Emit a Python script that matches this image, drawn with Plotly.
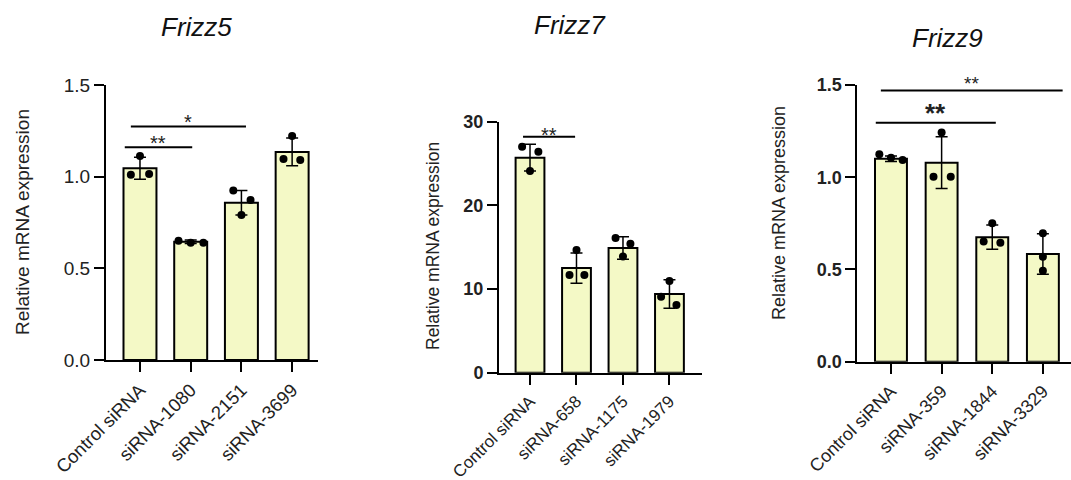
import plotly.graph_objects as go

# ---------------- data ----------------
titles = ["Frizz5", "Frizz7", "Frizz9"]

cats_5 = ["Control siRNA", "siRNA-1080", "siRNA-2151", "siRNA-3699"]
mean_5 = [1.046, 0.645, 0.858, 1.135]
sd_5 = [0.060, 0.010, 0.067, 0.076]
pts_5 = [[1.113, 1.010, 1.015], [0.650, 0.640, 0.640],
         [0.924, 0.873, 0.791], [1.222, 1.096, 1.091]]

cats_7 = ["Control siRNA", "siRNA-658", "siRNA-1175", "siRNA-1979"]
mean_7 = [25.7, 12.5, 14.9, 9.4]
sd_7 = [1.6, 1.8, 1.35, 1.7]
pts_7 = [[26.4, 27.0, 24.1], [14.66, 11.67, 11.67],
         [16.1, 15.4, 13.9], [10.96, 9.08, 8.09]]

cats_9 = ["Control siRNA", "siRNA-359", "siRNA-1844", "siRNA-3329"]
mean_9 = [1.100, 1.079, 0.675, 0.584]
sd_9 = [0.015, 0.140, 0.066, 0.110]
pts_9 = [[1.125, 1.106, 1.094], [1.242, 1.003, 1.003],
         [0.750, 0.651, 0.645], [0.696, 0.569, 0.493]]

# significance brackets: (x_from, x_to, y, label)
sig_5 = [(-0.30, 1.03, 1.16, "**"), (-0.18, 2.09, 1.273, "*")]
sig_7 = [(-0.15, 0.97, 28.2, "**")]
sig_9 = [(-0.30, 2.07, 1.296, "**"), (-0.20, 3.39, 1.47, "**")]

y_ticks_5 = [0.0, 0.5, 1.0, 1.5]
y_ticks_7 = [0, 10, 20, 30]
y_ticks_9 = [0.0, 0.5, 1.0, 1.5]
y_label = "Relative mRNA expression"

# ---------------- style ----------------
W, H = 1071, 480
FILL = "#F4F9C6"
FONT = "Liberation Sans, Arial, sans-serif"
# horizontal jitter of the dots (style only)
jit_5 = [[0.0, -0.18, 0.18], [-0.24, 0.0, 0.25], [-0.16, 0.18, 0.0], [0.0, -0.17, 0.16]]
jit_7 = [[0.18, -0.17, 0.0], [0.0, -0.15, 0.17], [-0.16, 0.16, 0.0], [0.0, -0.18, 0.15]]
jit_9 = [[-0.23, 0.0, 0.23], [0.0, -0.16, 0.18], [0.0, -0.17, 0.16], [0.0, 0.0, 0.0]]

panels = [
    dict(cats=cats_5, mean=mean_5, sd=sd_5, pts=pts_5, jit=jit_5, sig=sig_5,
         yt=y_ticks_5, ytext=["0.0", "0.5", "1.0", "1.5"], yr=[0, 1.5],
         xpx=(106, 318), xr=[-0.67, 3.51], ypx=(85, 360), bw=0.65,
         tickfont=19, bold=False, xfont=18.5, title_xy=(196, 27), tsize=26,
         ylab_xy=(22, 222), ylab_size=19,
         sigfont=[(20, False, 9), (20, False, 9)]),
    dict(cats=cats_7, mean=mean_7, sd=sd_7, pts=pts_7, jit=jit_7, sig=sig_7,
         yt=y_ticks_7, ytext=["0", "10", "20", "30"], yr=[0, 30],
         xpx=(499, 702), xr=[-0.667, 3.70], ypx=(121.7, 372.7), bw=0.62,
         tickfont=18, bold=True, xfont=17, title_xy=(570, 25), tsize=26,
         ylab_xy=(433, 246), ylab_size=17.5,
         sigfont=[(20, False, 6)]),
    dict(cats=cats_9, mean=mean_9, sd=sd_9, pts=pts_9, jit=jit_9, sig=sig_9,
         yt=y_ticks_9, ytext=["0.0", "0.5", "1.0", "1.5"], yr=[0, 1.5],
         xpx=(857.3, 1071), xr=[-0.665, 3.555], ypx=(85, 361.7), bw=0.63,
         tickfont=18, bold=True, xfont=18, title_xy=(947, 38), tsize=26,
         ylab_xy=(779, 213), ylab_size=18,
         sigfont=[(26, True, 16), (19, False, 11)]),
]

fig = go.Figure()
annotations = []
shapes = []
layout_axes = {}

for i, p in enumerate(panels):
    n = i + 1
    xa = "x" if n == 1 else f"x{n}"
    ya = "y" if n == 1 else f"y{n}"
    xs = list(range(len(p["cats"])))
    fig.add_trace(go.Bar(
        x=xs, y=p["mean"], width=p["bw"], xaxis=xa, yaxis=ya,
        marker=dict(color=FILL, line=dict(color="black", width=2)),
        error_y=dict(type="data", array=p["sd"], visible=True,
                     color="black", thickness=1.5, width=6),
        showlegend=False, hoverinfo="skip"))
    dx, dy = [], []
    for k, vals in enumerate(p["pts"]):
        for j, v in enumerate(vals):
            dx.append(k + p["jit"][k][j])
            dy.append(v)
    fig.add_trace(go.Scatter(
        x=dx, y=dy, mode="markers", xaxis=xa, yaxis=ya,
        marker=dict(color="black", size=8), showlegend=False,
        hoverinfo="skip", cliponaxis=False))

    x0p, x1p = p["xpx"]
    y0p, y1p = p["ypx"]
    wb = "bold" if p["bold"] else "normal"
    layout_axes["xaxis" if n == 1 else f"xaxis{n}"] = dict(
        domain=[x0p / W, x1p / W], anchor=ya, range=p["xr"],
        tickmode="array", tickvals=xs, ticktext=p["cats"], tickangle=-45,
        ticks="outside", ticklen=10, tickwidth=2, tickcolor="black",
        showline=True, linecolor="black", linewidth=2, showgrid=False,
        zeroline=False, automargin=False,
        tickfont=dict(family=FONT, size=p["xfont"], color="#222"),
        fixedrange=True)
    layout_axes["yaxis" if n == 1 else f"yaxis{n}"] = dict(
        domain=[1 - y1p / H, 1 - y0p / H], anchor=xa, range=p["yr"],
        tickmode="array", tickvals=p["yt"], ticktext=p["ytext"],
        ticks="outside", ticklen=10, tickwidth=2, tickcolor="black",
        showline=True, linecolor="black", linewidth=2, showgrid=False,
        zeroline=False, automargin=False,
        tickfont=dict(family=FONT, size=p["tickfont"], color="#222",
                      weight=wb),
        fixedrange=True)

    # panel title
    tx, ty = p["title_xy"]
    annotations.append(dict(
        text=f"<i>{titles[i]}</i>", x=tx / W, y=1 - ty / H, xref="paper",
        yref="paper", showarrow=False, xanchor="center", yanchor="middle",
        font=dict(family=FONT, size=p["tsize"], color="#111")))
    # y label
    lx, ly = p["ylab_xy"]
    annotations.append(dict(
        text=y_label, x=lx / W, y=1 - ly / H, xref="paper", yref="paper",
        showarrow=False, textangle=-90, xanchor="center", yanchor="middle",
        font=dict(family=FONT, size=p["ylab_size"], color="#222")))

    # significance brackets
    for s, (a, b, yv, lab) in enumerate(p["sig"]):
        shapes.append(dict(type="line", xref=xa, yref=ya, x0=a, x1=b,
                           y0=yv, y1=yv, line=dict(color="black", width=2)))
        fs, bd, up = p["sigfont"][s]
        annotations.append(dict(
            text=lab, x=(a + b) / 2, y=yv, xref=xa, yref=ya,
            showarrow=False, xanchor="center", yanchor="middle",
            yshift=up - 0.23 * fs,
            font=dict(family=FONT, size=fs, color="#222",
                      weight="bold" if bd else "normal")))

fig.update_layout(
    width=W, height=H, margin=dict(l=0, r=0, t=0, b=0, autoexpand=False),
    paper_bgcolor="white", plot_bgcolor="white",
    annotations=annotations, shapes=shapes,
    **layout_axes)

fig.write_html(
    "out.html",
    config={"displayModeBar": False},
    post_script="document.body.style.margin='0';document.body.style.overflow='hidden';")
